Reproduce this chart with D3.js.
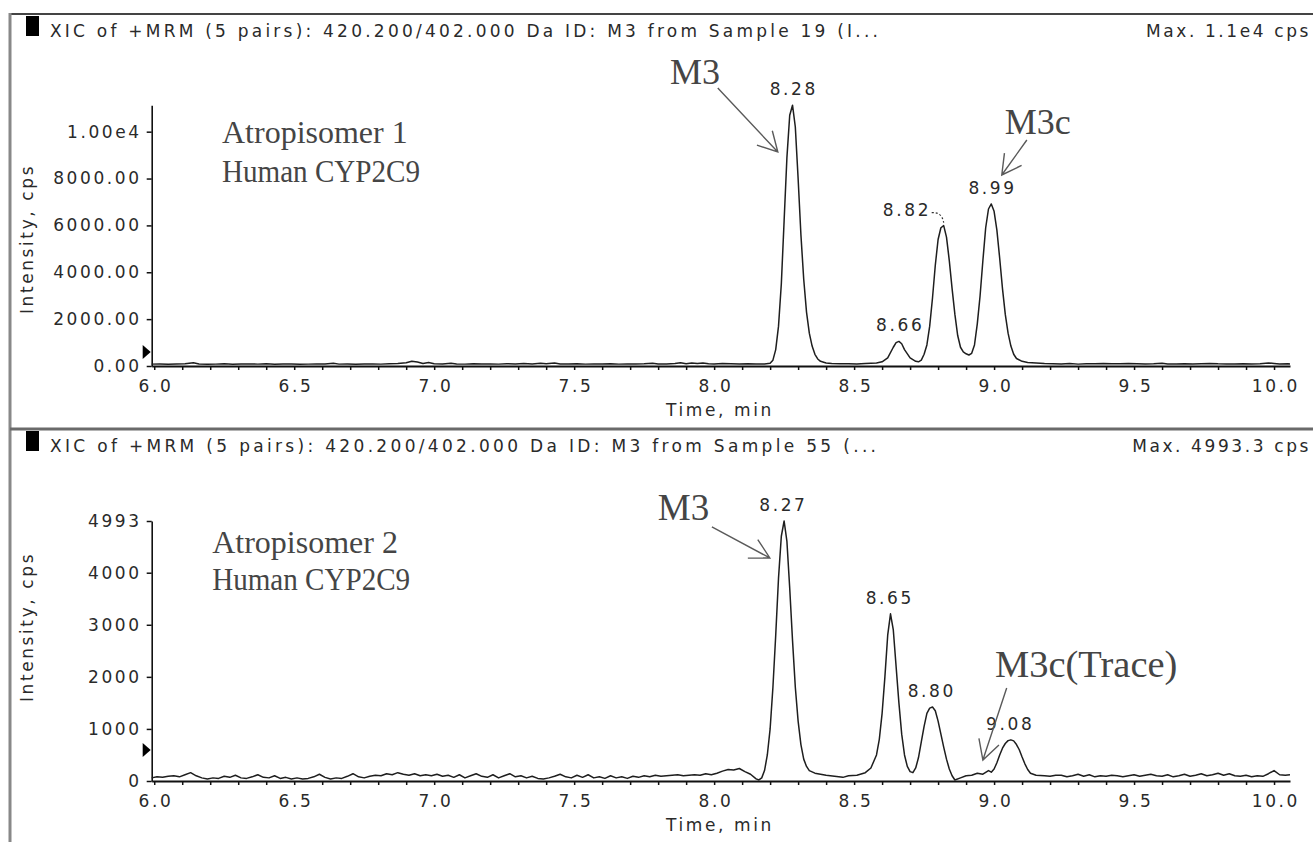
<!DOCTYPE html>
<html><head><meta charset="utf-8">
<script src="https://cdn.jsdelivr.net/npm/d3@7"></script>
<style>
body{margin:0;background:#fff;}
svg{display:block;}
.sans{font-family:"DejaVu Sans",sans-serif;font-size:17px;letter-spacing:2.6px;fill:#2a2a2a;}
.serif{font-family:"Liberation Serif","Times New Roman",serif;fill:#454545;}
</style></head><body>
<svg id="chart" width="1313" height="842"></svg>
<script>
// ---------------- DATA ----------------
const xTickValues = [6.0,6.1,6.2,6.3,6.4,6.5,6.6,6.7,6.8,6.9,7.0,7.1,7.2,7.3,7.4,7.5,7.6,7.7,7.8,7.9,8.0,8.1,8.2,8.3,8.4,8.5,8.6,8.7,8.8,8.9,9.0,9.1,9.2,9.3,9.4,9.5,9.6,9.7,9.8,9.9,10.0];
const xMajorTicks = [6.0,6.5,7.0,7.5,8.0,8.5,9.0,9.5,10.0];
const xMajorLabels = ["6.0","6.5","7.0","7.5","8.0","8.5","9.0","9.5","10.0"];

const topYTicks = [0,2000,4000,6000,8000,10000];
const topYLabels = ["0.00","2000.00","4000.00","6000.00","8000.00","1.00e4"];
const topYMax = 11130;
const bottomYTicks = [0,1000,2000,3000,4000,4993];
const bottomYLabels = ["0","1000","2000","3000","4000","4993"];
const bottomYMax = 4993;

const topTitle = "XIC of +MRM (5 pairs): 420.200/402.000 Da ID: M3 from Sample 19 (I...";
const topMaxLabel = "Max. 1.1e4 cps";
const bottomTitle = "XIC of +MRM (5 pairs): 420.200/402.000 Da ID: M3 from Sample 55 (...";
const bottomMaxLabel = "Max. 4993.3 cps";
const xTitle = "Time, min";
const yTitle = "Intensity, cps";

// [time (min), intensity (cps)]
const topTrace = [
[5.991,80],[6.02,90],[6.05,70],[6.08,85],[6.11,95],[6.14,140],[6.16,90],[6.19,75],[6.22,80],[6.25,95],[6.28,70],[6.31,85],[6.34,90],[6.37,80],[6.40,95],[6.43,75],[6.46,85],[6.49,90],[6.52,70],[6.55,80],[6.58,90],[6.61,85],[6.64,120],[6.66,80],[6.69,90],[6.72,75],[6.75,85],[6.78,90],[6.81,80],[6.84,95],[6.87,110],[6.90,140],[6.92,200],[6.94,170],[6.96,110],[6.98,150],[7.00,100],[7.03,85],[7.06,120],[7.08,90],[7.11,80],[7.14,95],[7.17,85],[7.20,90],[7.23,80],[7.26,95],[7.29,85],[7.32,110],[7.35,90],[7.38,120],[7.40,95],[7.43,130],[7.45,90],[7.48,85],[7.51,95],[7.54,80],[7.57,90],[7.60,85],[7.63,95],[7.66,80],[7.69,90],[7.72,85],[7.75,95],[7.78,120],[7.80,90],[7.83,85],[7.86,110],[7.88,140],[7.90,100],[7.92,130],[7.94,110],[7.96,130],[7.98,100],[8.00,90],[8.03,110],[8.06,100],[8.09,90],[8.12,95],[8.15,85],[8.18,90],[8.20,120],
[8.21,250],[8.22,700],[8.23,1700],[8.24,3500],[8.25,6200],[8.26,8900],[8.27,10700],[8.28,11130],[8.29,10200],[8.30,8000],[8.31,5600],[8.32,3700],[8.33,2300],[8.34,1400],[8.35,850],[8.36,500],[8.37,300],[8.38,200],[8.40,130],[8.42,110],[8.45,100],[8.48,95],[8.51,90],[8.54,110],[8.56,120],[8.58,130],
[8.60,180],[8.62,350],[8.64,800],[8.65,1000],[8.66,1050],[8.67,950],[8.68,700],[8.70,350],[8.72,200],[8.73,180],[8.74,250],[8.75,500],[8.76,900],[8.77,1700],[8.78,2900],[8.79,4300],[8.80,5400],[8.81,5900],[8.82,5990],[8.83,5500],[8.84,4500],[8.85,3300],[8.86,2200],[8.87,1300],[8.88,800],[8.89,600],[8.90,520],[8.91,470],[8.92,540],[8.93,900],[8.94,1800],[8.95,3000],[8.96,4500],[8.97,5900],[8.98,6700],[8.99,6914],[9.00,6600],[9.01,5800],[9.02,4600],[9.03,3300],[9.04,2200],[9.05,1400],[9.06,850],[9.07,500],[9.08,320],[9.10,200],[9.12,150],
[9.15,130],[9.18,110],[9.21,100],[9.24,90],[9.27,110],[9.30,80],[9.33,95],[9.36,100],[9.39,110],[9.42,100],[9.45,95],[9.48,110],[9.51,100],[9.54,90],[9.57,95],[9.60,120],[9.62,90],[9.65,85],[9.68,95],[9.71,90],[9.74,100],[9.77,110],[9.80,95],[9.83,90],[9.86,85],[9.89,95],[9.92,90],[9.95,100],[9.98,130],[10.00,110],[10.02,90],[10.05,95],[10.057,90]
];

const bottomTrace = [
[5.991,60],[6.01,80],[6.03,70],[6.05,90],[6.07,100],[6.09,80],[6.11,120],[6.13,160],[6.15,100],[6.17,60],[6.19,40],[6.21,60],[6.23,50],[6.25,90],[6.27,70],[6.29,110],[6.31,60],[6.33,50],[6.35,80],[6.37,120],[6.39,70],[6.41,60],[6.43,100],[6.45,50],[6.47,70],[6.49,40],[6.51,60],[6.53,40],[6.55,50],[6.57,80],[6.59,130],[6.61,70],[6.63,40],[6.65,60],[6.67,50],[6.69,90],[6.71,140],[6.73,80],[6.75,60],[6.77,90],[6.79,110],[6.81,100],[6.83,140],[6.85,120],[6.87,160],[6.89,130],[6.91,110],[6.93,140],[6.95,100],[6.97,120],[6.99,100],[7.01,130],[7.03,90],[7.05,110],[7.07,70],[7.09,120],[7.11,60],[7.13,100],[7.15,140],[7.17,90],[7.19,70],[7.21,120],[7.23,60],[7.25,100],[7.27,140],[7.29,80],[7.31,100],[7.33,60],[7.35,90],[7.37,50],[7.39,40],[7.41,60],[7.43,90],[7.45,130],[7.47,80],[7.49,60],[7.51,110],[7.53,70],[7.55,120],[7.57,60],[7.59,80],[7.61,50],[7.63,100],[7.65,60],[7.67,80],[7.69,50],[7.71,90],[7.73,70],[7.75,100],[7.77,80],[7.79,110],[7.81,90],[7.83,100],[7.85,110],[7.87,120],[7.89,100],[7.91,110],[7.93,120],[7.95,110],[7.97,140],[7.99,120],[8.01,150],[8.03,190],[8.05,220],[8.07,210],[8.09,240],[8.11,180],[8.13,130],[8.15,40],[8.16,20],
[8.17,60],[8.18,200],[8.19,500],[8.20,1000],[8.21,1800],[8.22,2800],[8.23,3900],[8.24,4700],[8.25,4993],[8.26,4600],[8.27,3700],[8.28,2700],[8.29,1800],[8.30,1150],[8.31,700],[8.32,420],[8.33,280],[8.34,200],[8.36,150],[8.38,130],[8.40,110],[8.43,90],[8.46,70],[8.48,100],[8.51,110],[8.54,160],[8.56,250],
[8.58,500],[8.59,800],[8.60,1300],[8.61,2000],[8.62,2800],[8.63,3210],[8.64,2900],[8.65,2200],[8.66,1500],[8.67,900],[8.68,500],[8.69,280],[8.70,180],[8.71,160],[8.72,250],[8.73,450],[8.74,750],[8.75,1050],[8.76,1300],[8.77,1400],[8.78,1420],[8.79,1350],[8.80,1150],[8.81,900],[8.82,650],[8.83,420],[8.84,230],[8.85,100],[8.86,20],[8.88,60],[8.90,100],[8.92,110],[8.94,150],[8.96,130],[8.98,200],[8.99,170],[9.00,230],[9.01,350],[9.02,500],[9.03,630],[9.04,720],[9.05,775],[9.06,790],[9.07,770],[9.08,700],[9.09,600],[9.10,460],[9.11,330],[9.12,220],[9.13,150],[9.15,110],[9.18,100],[9.20,90],
[9.22,110],[9.24,110],[9.26,80],[9.28,100],[9.30,130],[9.32,90],[9.34,120],[9.36,80],[9.38,100],[9.40,90],[9.42,110],[9.44,100],[9.46,80],[9.48,100],[9.50,120],[9.52,90],[9.54,110],[9.56,130],[9.58,100],[9.60,90],[9.62,120],[9.64,80],[9.66,100],[9.68,130],[9.70,90],[9.72,110],[9.74,140],[9.76,100],[9.78,120],[9.80,150],[9.82,110],[9.84,140],[9.86,100],[9.88,90],[9.90,110],[9.92,80],[9.94,100],[9.96,90],[9.98,140],[10.00,200],[10.02,120],[10.04,110],[10.057,120]
];

// peak apex times as drawn, and their printed labels
const topPeakTimes = [8.28, 8.66, 8.82, 8.99];
const topPeakLabels = ["8.28","8.66","8.82","8.99"];
const bottomPeakTimes = [8.25, 8.63, 8.78, 9.06];
const bottomPeakLabels = ["8.27","8.65","8.80","9.08"];

// annotation text anchored in data units [text, time, intensity]
const topNotes = [["Atropisomer 1",6.242,9517],["Human CYP2C9",6.242,7852],["M3",7.842,12034],["M3c",9.038,9900]];
const bottomNotes = [["Atropisomer 2",6.207,4379],["Human CYP2C9",6.207,3668],["M3",7.799,5012],["M3c(Trace)",9.003,1997]];
// arrows [t1,v1,t2,v2]
const topArrows = [[8.013,11864,8.2275,9132],[9.117,9645,9.0275,8151]];
const bottomArrows = [[7.992,4878,8.199,4283],[9.045,1786,8.960,403]];

// ---------------- DRAW ----------------
const svg = d3.select("#chart");
const x = d3.scaleLinear().domain([5.991, 10.057]).range([151.7, 1290]);

// frame
svg.append("line").attr("x1",10).attr("x2",1313).attr("y1",14).attr("y2",14).attr("stroke","#444").attr("stroke-width",2);
svg.append("line").attr("x1",10).attr("x2",10).attr("y1",13).attr("y2",842).attr("stroke","#888").attr("stroke-width",3);
svg.append("line").attr("x1",10).attr("x2",1313).attr("y1",429).attr("y2",429).attr("stroke","#6a6a6a").attr("stroke-width",3);

const panels = [
 {trace:topTrace, yTicks:topYTicks, yLabels:topYLabels, yMax:topYMax, yRange:[366,105.2], title:topTitle, titleLen:828, maxLabel:topMaxLabel,
  titleBase:37, squareTop:16, triY:352, yTitleY:239, peakTimes:topPeakTimes, peakLabels:topPeakLabels, peakDx:[0,0,-38,0],
  notes:topNotes, noteSizes:[32,31,36,36], noteLens:[0,198,0,0], arrows:topArrows, leader:2},
 {trace:bottomTrace, yTicks:bottomYTicks, yLabels:bottomYLabels, yMax:bottomYMax, yRange:[781,521], title:bottomTitle, titleLen:826, maxLabel:bottomMaxLabel,
  titleBase:452, squareTop:431, triY:750, yTitleY:627, peakTimes:bottomPeakTimes, peakLabels:bottomPeakLabels, peakDx:[-2,-2,-2,-2],
  notes:bottomNotes, noteSizes:[32,31,37,38.5], noteLens:[0,198,0,0], arrows:bottomArrows, leader:-1}
];

panels.forEach(p => {
  const y = d3.scaleLinear().domain([0, p.yMax]).range(p.yRange);
  const g = svg.append("g");

  // title
  g.append("rect").attr("x",26).attr("y",p.squareTop).attr("width",13).attr("height",20).attr("fill","#000");
  g.append("text").attr("class","sans").attr("x",50).attr("y",p.titleBase)
    .attr("textLength",p.titleLen).attr("lengthAdjust","spacing").style("letter-spacing","0px").text(p.title);
  g.append("text").attr("class","sans").attr("x",1311).attr("y",p.titleBase).attr("text-anchor","end").text(p.maxLabel);

  // x axis
  const xa = d3.axisBottom(x).tickValues(xTickValues).tickSize(4).tickSizeOuter(0).tickPadding(10)
    .tickFormat(d => { const i = xMajorTicks.findIndex(m => Math.abs(m-d)<1e-9); return i>=0 ? xMajorLabels[i] : ""; });
  const gx = g.append("g").attr("transform",`translate(0,${p.yRange[0]})`).call(xa);
  gx.select(".domain").attr("stroke","#111").attr("stroke-width",2);
  gx.selectAll(".tick line").attr("stroke","#111").attr("stroke-width",1.5);
  gx.selectAll(".tick text").attr("class","sans").attr("font-size",null).attr("font-family",null).attr("fill",null).attr("dx","1.3px");
  gx.attr("font-size",null).attr("font-family",null);

  // x title
  g.append("text").attr("class","sans").attr("x",720).attr("y",p.yRange[0]+50).attr("text-anchor","middle").text(xTitle);

  // y axis
  const ya = d3.axisLeft(y).tickValues(p.yTicks).tickSize(5).tickSizeOuter(0).tickPadding(5)
    .tickFormat((d,i) => p.yLabels[i]);
  const gy = g.append("g").attr("transform",`translate(${x(5.991)},0)`).call(ya);
  gy.select(".domain").attr("stroke","#111").attr("stroke-width",1.6);
  gy.selectAll(".tick line").attr("stroke","#111").attr("stroke-width",1.5);
  gy.selectAll(".tick text").attr("class","sans").attr("font-size",null).attr("font-family",null).attr("fill",null);
  gy.attr("font-size",null).attr("font-family",null);

  // y title
  g.append("text").attr("class","sans").attr("transform",`translate(33,${p.yTitleY}) rotate(-90)`).attr("text-anchor","middle").text(yTitle);

  // baseline marker triangle
  const tx = x(5.991);
  g.append("path").attr("d",`M${tx-9},${p.triY-7}L${tx-1},${p.triY}L${tx-9},${p.triY+7}Z`).attr("fill","#000");

  // trace
  const line = d3.line().x(d => x(d[0])).y(d => y(d[1]));
  g.append("path").datum(p.trace).attr("d",line).attr("fill","none").attr("stroke","#1e1e1e").attr("stroke-width",1.5).attr("stroke-linejoin","round");

  // peak labels
  p.peakTimes.forEach((t,i) => {
    const pt = p.trace.find(d => Math.abs(d[0]-t)<1e-9);
    g.append("text").attr("class","sans").attr("x",x(t)+p.peakDx[i]+1.3).attr("y",y(pt[1])-10).attr("text-anchor","middle").text(p.peakLabels[i]);
    if (i === p.leader) {
      const x0 = x(t)+p.peakDx[i]+26, y0 = y(pt[1])-13;
      g.append("path").attr("d",`M${x0},${y0}Q${x(t)-2},${y0-1} ${x(t)},${y(pt[1])-3}`).attr("fill","none").attr("stroke","#333").attr("stroke-width",1.2).attr("stroke-dasharray","2,2");
    }
  });

  // annotation notes
  p.notes.forEach((n,i) => {
    const t = g.append("text").attr("class","serif").attr("x",x(n[1])).attr("y",y(n[2])).attr("font-size",p.noteSizes[i]).text(n[0]);
    if (p.noteLens[i]) t.attr("textLength",p.noteLens[i]).attr("lengthAdjust","spacingAndGlyphs");
  });

  // arrows
  p.arrows.forEach(a => {
    const x1 = x(a[0]), y1 = y(a[1]), x2 = x(a[2]), y2 = y(a[3]);
    const ang = Math.atan2(y1-y2, x1-x2), L = 22, s = 0.5;
    const h1 = [x2+L*Math.cos(ang+s), y2+L*Math.sin(ang+s)], h2 = [x2+L*Math.cos(ang-s), y2+L*Math.sin(ang-s)];
    g.append("path").attr("d",`M${x1},${y1}L${x2},${y2}M${h1[0]},${h1[1]}L${x2},${y2}L${h2[0]},${h2[1]}`)
      .attr("fill","none").attr("stroke","#5a5a5a").attr("stroke-width",1.4);
  });
});
</script>
</body></html>
